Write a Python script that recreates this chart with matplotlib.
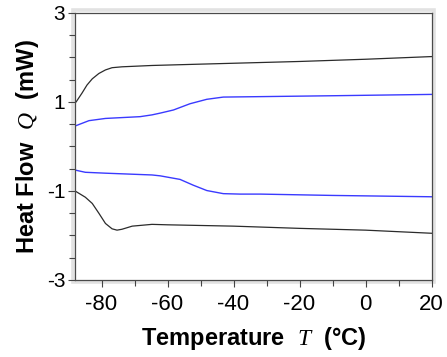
import matplotlib
matplotlib.use('Agg')
import matplotlib.pyplot as plt
from matplotlib.patches import Rectangle

# heating curves (upper pair) and cooling curves (lower pair)
t_black_top = [-88, -87.7, -85.9, -84.4, -82.8, -80.8, -78.8, -76.8, -73.8, -64.7, -50, -40, -20, 0, 20]
q_black_top = [0.99, 1.0, 1.20, 1.38, 1.52, 1.64, 1.72, 1.77, 1.79, 1.82, 1.85, 1.87, 1.91, 1.96, 2.02]

t_blue_top = [-88, -85.9, -83.8, -78.8, -68.3, -64.7, -62.2, -58.2, -53.2, -48.1, -43.1, -31.9, -10, 20]
q_blue_top = [0.46, 0.52, 0.58, 0.63, 0.67, 0.71, 0.75, 0.82, 0.96, 1.06, 1.11, 1.12, 1.14, 1.17]

t_blue_bot = [-88, -84.9, -78.8, -68.3, -64.7, -62.2, -56.2, -52.2, -48.1, -43.1, -38, -31.9, -10, 20]
q_blue_bot = [-0.53, -0.58, -0.60, -0.63, -0.64, -0.66, -0.74, -0.87, -0.99, -1.06, -1.07, -1.07, -1.10, -1.13]

t_black_bot = [-88, -84.9, -82.8, -80.8, -78.8, -76.8, -75.3, -73.8, -70.7, -64.7, -60, -40, -20, 0, 20]
q_black_bot = [-1.0, -1.14, -1.28, -1.50, -1.73, -1.85, -1.88, -1.86, -1.79, -1.75, -1.76, -1.79, -1.84, -1.88, -1.95]

x_major = [-80, -60, -40, -20, 0, 20]
y_major = [-3, -1, 1, 3]

plt.rcParams['font.family'] = ['Liberation Sans', 'DejaVu Sans']
plt.rcParams['mathtext.fontset'] = 'custom'
plt.rcParams['mathtext.it'] = 'Liberation Serif:italic'

fig = plt.figure(figsize=(4.47, 3.57), dpi=100)
ax = fig.add_axes([0.168, 0.2157, 0.7975, 0.748])

ax.plot(t_black_top, q_black_top, color='#2b2b2b', lw=0.9)
ax.plot(t_blue_top, q_blue_top, color='#3a3aff', lw=1.0)
ax.plot(t_blue_bot, q_blue_bot, color='#3a3aff', lw=1.0)
ax.plot(t_black_bot, q_black_bot, color='#2b2b2b', lw=0.9)

ax.set_xlim(-88, 20)
ax.set_ylim(-3, 3)
ax.set_xticks(x_major)
ax.set_xticks(list(range(-70, 20, 20)), minor=True)
ax.set_yticks(y_major)
ax.set_yticks([v / 2 for v in range(-5, 6) if v % 4 != 2], minor=True)
ax.set_xticklabels([str(v) for v in x_major])
ax.set_yticklabels([str(v) for v in y_major])
ax.tick_params(axis='both', which='major', direction='out', length=5, width=0.8,
               color='#444444', labelsize=15, pad=2)
ax.tick_params(axis='both', which='minor', direction='out', length=4, width=0.8,
               color='#444444')
ax.tick_params(axis='x', labelsize=16, pad=5)

for s in ax.spines.values():
    s.set_color('#4a4a4a')
    s.set_linewidth(0.9)

# light grey frame around the plot area
dx = 2.5 / 356.0
dy = 2.5 / 267.0
ax.add_patch(Rectangle((-dx, -dy), 1 + 2 * dx, 1 + 2 * dy, transform=ax.transAxes,
                       fill=False, lw=2.6, ec='#e2e2e2', clip_on=False, zorder=0))

ax.set_xlabel('Temperature  $T$  (°C)', fontsize=17, fontweight='bold', labelpad=7)
ax.set_ylabel('Heat Flow  $Q$  (mW)', fontsize=17, fontweight='bold', labelpad=4)

fig.savefig('out.png', dpi=100)
